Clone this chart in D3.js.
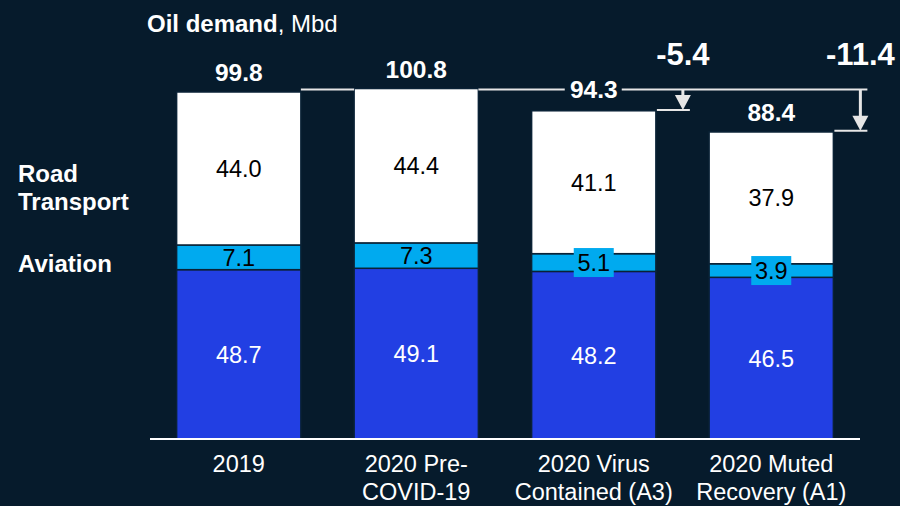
<!DOCTYPE html>
<html>
<head>
<meta charset="utf-8">
<script src="https://cdn.jsdelivr.net/npm/d3@7"></script>
<style>
  html, body { margin: 0; padding: 0; background: #061b2c; }
  svg { display: block; font-family: Arial, "Liberation Sans", sans-serif; }
</style>
</head>
<body>
<svg id="chart" width="900" height="506"></svg>
<script>
// Oil demand by scenario, million barrels per day
const categories = [["2019"], ["2020 Pre-", "COVID-19"], ["2020 Virus", "Contained (A3)"], ["2020 Muted", "Recovery (A1)"]];
const other = [48.7, 49.1, 48.2, 46.5];
const aviation = [7.1, 7.3, 5.1, 3.9];
const road = [44.0, 44.4, 41.1, 37.9];
const totals = [99.8, 100.8, 94.3, 88.4];
const deltas = [null, null, "-5.4", "-11.4"];
const referenceIndex = 1; // pre-COVID level used as the comparison line

const BG = "#061b2c";
const colors = { other: "#223fe3", aviation: "#00aaef", road: "#ffffff" };

const svg = d3.select("#chart");
const x = d3.scaleBand().domain(d3.range(categories.length)).range([150, 860])
  .paddingInner(0.3).paddingOuter(0.15);
const y = d3.scaleLinear().domain([0, 99.8]).range([439, 92]);

const keys = ["other", "aviation", "road"];
const rows = categories.map((c, i) => ({ i, other: other[i], aviation: aviation[i], road: road[i] }));
const stack = d3.stack().keys(keys)(rows);

// stacked bars
const layers = svg.append("g").selectAll("g").data(stack).join("g")
  .attr("fill", d => colors[d.key]);
layers.selectAll("rect").data(d => d).join("rect")
  .attr("x", d => x(d.data.i))
  .attr("width", x.bandwidth())
  .attr("y", d => y(d[1]))
  .attr("height", d => y(d[0]) - y(d[1]))
  .attr("stroke", "#0a2236")
  .attr("stroke-width", 1.5);

// segment value labels
stack.forEach(layer => {
  layer.forEach(d => {
    const i = d.data.i;
    const cx = x(i) + x.bandwidth() / 2;
    const top = y(d[1]), bot = y(d[0]);
    const cy = (top + bot) / 2;
    const val = d.data[layer.key].toFixed(1);
    const g = svg.append("g");
    if (bot - top < 22) {
      g.append("rect").attr("x", cx - 20).attr("y", cy - 14.5)
        .attr("width", 40).attr("height", 29).attr("fill", colors.aviation);
    }
    g.append("text").attr("x", cx).attr("y", cy).attr("dy", "0.36em")
      .attr("text-anchor", "middle").attr("font-size", 23.5)
      .attr("fill", layer.key === "other" ? "#ffffff" : "#000000")
      .text(val);
  });
});

// baseline
svg.append("line").attr("x1", 150).attr("x2", 860).attr("y1", 439).attr("y2", 439)
  .attr("stroke", "#ffffff").attr("stroke-width", 2);

// category labels
categories.forEach((lines, i) => {
  const t = svg.append("text").attr("text-anchor", "middle").attr("fill", "#ffffff")
    .attr("font-size", 23.5);
  lines.forEach((ln, k) => {
    t.append("tspan").attr("x", x(i) + x.bandwidth() / 2).attr("y", 472 + k * 28).text(ln);
  });
});

// reference line at the pre-COVID total
const refY = y(totals[referenceIndex]) + 1;
const lineColor = "#e6e6e6";
const seg = (x1, x2, yy) => svg.append("line").attr("x1", x1).attr("x2", x2)
  .attr("y1", yy).attr("y2", yy).attr("stroke", lineColor).attr("stroke-width", 2);
seg(x(0) + x.bandwidth(), x(1), refY);
const c2 = x(2) + x.bandwidth() / 2;
const arrowX = i => x(i) + x.bandwidth() + 27;
seg(x(1) + x.bandwidth(), c2 - 29, refY);
seg(c2 + 28, arrowX(3) + 7, refY);

// totals
totals.forEach((v, i) => {
  const cx = x(i) + x.bandwidth() / 2;
  const onLine = i > referenceIndex && y(v) - refY < 25;
  svg.append("text").attr("x", cx)
    .attr("y", onLine ? refY : y(v) - 11)
    .attr("dy", onLine ? "0.36em" : 0)
    .attr("text-anchor", "middle").attr("font-size", 24.5).attr("font-weight", "bold")
    .attr("fill", "#ffffff").text(v.toFixed(1));
});

// change arrows and labels
deltas.forEach((lbl, i) => {
  if (!lbl) return;
  const ax = arrowX(i);
  const ty = y(totals[i]) - 1;
  svg.append("line").attr("x1", ax).attr("x2", ax).attr("y1", refY).attr("y2", ty - 13)
    .attr("stroke", lineColor).attr("stroke-width", 3);
  svg.append("path")
    .attr("d", `M${ax - 8},${ty - 15} L${ax + 8},${ty - 15} L${ax},${ty} Z`)
    .attr("fill", lineColor);
  seg(x(i) + x.bandwidth() + 1, ax + 7, ty);
  svg.append("text").attr("x", ax).attr("y", 65).attr("text-anchor", "middle")
    .attr("font-size", 31).attr("font-weight", "bold").attr("fill", "#ffffff").text(lbl);
});

// title
const title = svg.append("text").attr("x", 147).attr("y", 32).attr("fill", "#ffffff")
  .attr("font-size", 24);
title.append("tspan").attr("font-weight", "bold").text("Oil demand");
title.append("tspan").text(", Mbd");

// series labels on the left
const side = svg.append("g").attr("fill", "#ffffff").attr("font-size", 24).attr("font-weight", "bold");
const roadLbl = side.append("text");
roadLbl.append("tspan").attr("x", 18).attr("y", 182).text("Road");
roadLbl.append("tspan").attr("x", 18).attr("y", 210).text("Transport");
side.append("text").attr("x", 18).attr("y", 272).text("Aviation");
</script>
</body>
</html>
